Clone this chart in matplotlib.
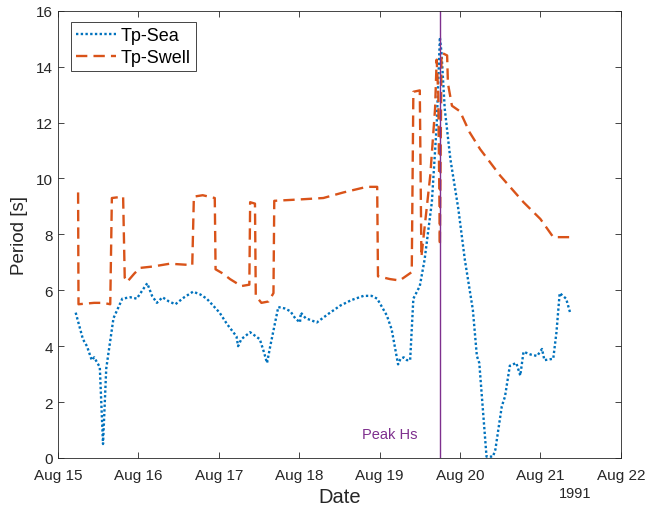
import numpy as np
import pandas as pd
import matplotlib
matplotlib.use('Agg')
import matplotlib.pyplot as plt
import matplotlib.dates as mdates

plt.rcParams['font.family'] = ['Liberation Sans', 'DejaVu Sans']

# Tp-Sea, time in days since 1991-08-15 00:00
sea_days = [0.22, 0.31, 0.36, 0.42, 0.45, 0.52, 0.56, 0.60, 0.69, 0.80, 0.90, 0.98,
            1.05, 1.11, 1.17, 1.23, 1.30, 1.38, 1.46, 1.57, 1.68, 1.77, 1.85, 2.01,
            2.10, 2.22, 2.24, 2.28, 2.39, 2.51, 2.56, 2.60, 2.64, 2.74, 2.82, 2.89,
            2.95, 3.01, 3.02, 3.08, 3.22, 3.36, 3.51, 3.65, 3.80, 3.90, 3.97, 4.09,
            4.15, 4.23, 4.26, 4.30, 4.34, 4.38, 4.42, 4.50, 4.56, 4.65, 4.71, 4.75,
            4.77, 4.81, 4.88, 4.98, 5.06, 5.16, 5.21, 5.24, 5.33, 5.41, 5.44, 5.52,
            5.56, 5.62, 5.70, 5.75, 5.79, 5.88, 5.96, 6.02, 6.05, 6.16, 6.20, 6.24,
            6.28, 6.32, 6.37]
sea_tp = [5.2, 4.25, 4.0, 3.5, 3.6, 3.25, 0.5, 3.2, 5.0, 5.7, 5.75, 5.7,
          6.0, 6.25, 5.8, 5.55, 5.75, 5.6, 5.5, 5.75, 5.95, 5.85, 5.7, 5.2,
          4.8, 4.35, 4.0, 4.25, 4.5, 4.25, 3.8, 3.4, 4.0, 5.4, 5.35, 5.25,
          5.0, 4.85, 5.2, 5.0, 4.85, 5.15, 5.45, 5.65, 5.8, 5.8, 5.7, 5.1,
          4.6, 3.35, 3.55, 3.6, 3.5, 3.5, 5.7, 6.15, 7.1, 9.15, 11.9, 15.05,
          14.5, 12.5, 10.7, 8.9, 7.1, 5.3, 3.65, 3.4, 0.05, 0.05, 0.3, 1.85,
          2.2, 3.3, 3.4, 2.95, 3.8, 3.7, 3.65, 3.9, 3.5, 3.55, 4.5, 5.9,
          5.8, 5.7, 5.2]

# Tp-Swell
swell_days = [0.25, 0.255, 0.45, 0.56, 0.65, 0.67, 0.81, 0.83, 0.86, 0.95, 1.02, 1.18,
              1.39, 1.67, 1.69, 1.80, 1.95, 1.96, 2.05, 2.14, 2.28, 2.38, 2.39, 2.45,
              2.46, 2.53, 2.62, 2.68, 2.69, 3.01, 3.30, 3.55, 3.84, 3.97, 3.98, 4.13,
              4.25, 4.40, 4.42, 4.50, 4.52, 4.63, 4.69, 4.71, 4.73, 4.75, 4.77, 4.84,
              4.85, 4.90, 5.00, 5.12, 5.25, 5.50, 5.79, 6.00, 6.16, 6.27, 6.37]
swell_tp = [9.5, 5.5, 5.55, 5.55, 5.5, 9.3, 9.35, 6.45, 6.3, 6.6, 6.8, 6.85,
            6.95, 6.9, 9.35, 9.4, 9.3, 6.75, 6.6, 6.4, 6.15, 6.2, 9.15, 9.1,
            5.8, 5.55, 5.6, 5.9, 9.2, 9.25, 9.3, 9.5, 9.7, 9.7, 6.5, 6.4,
            6.35, 6.65, 13.1, 13.15, 7.2, 10.1, 12.5, 14.25, 13.0, 7.6, 14.5, 14.4,
            13.4, 12.6, 12.4, 11.65, 11.05, 10.1, 9.15, 8.55, 7.9, 7.9, 7.9]

peak_day = 4.75

base = pd.Timestamp('1991-08-15')
sea_t = base + pd.to_timedelta(sea_days, unit='D')
swell_t = base + pd.to_timedelta(swell_days, unit='D')
peak_t = base + pd.to_timedelta(peak_day, unit='D')

fig = plt.figure(figsize=(6.48, 5.1), dpi=100)
ax = fig.add_axes([0.0895, 0.1, 0.8685, 0.877])

ax.plot(sea_t, sea_tp, color='#0072BD', linestyle=(0, (1, 1)), lw=1.7, label='Tp-Sea')
ax.plot(swell_t, swell_tp, color='#D95319', linestyle=(0, (4.8, 2.6)), lw=1.7, label='Tp-Swell')
ax.axvline(peak_t, color='#7E2F8E', lw=1)
ax.annotate('Peak Hs', xy=(peak_t, 0), xytext=(-16, 12), textcoords='offset points',
            ha='right', va='bottom', color='#7E2F8E', fontsize=10.5)

ax.set_xlim(pd.Timestamp('1991-08-15'), pd.Timestamp('1991-08-22'))
ax.set_ylim(0, 16)
ax.set_yticks(np.arange(0, 17, 2))
ax.xaxis.set_major_locator(mdates.DayLocator())
ax.xaxis.set_major_formatter(mdates.DateFormatter('%b %d'))

ax.tick_params(direction='in', top=True, right=True, length=4, width=0.6,
               labelsize=11, colors='#262626')
ax.tick_params(axis='x', pad=7)
for s in ax.spines.values():
    s.set_color('#262626')
    s.set_linewidth(0.6)

ax.set_xlabel('Date', fontsize=14.5, color='#262626', labelpad=4)
ax.set_ylabel('Period [s]', fontsize=13.5, color='#262626', labelpad=6)
fig.text(0.887, 0.031, '1991', ha='center', va='center', fontsize=10.5, color='#262626')

leg = ax.legend(loc='upper left', fontsize=13, handlelength=2.2, handletextpad=0.25,
                fancybox=False, framealpha=1, borderpad=0.3, labelspacing=0.25,
                borderaxespad=0, bbox_to_anchor=(0.023, 0.975))
leg.get_frame().set_edgecolor('#262626')
leg.get_frame().set_linewidth(0.6)

fig.savefig('out.png', dpi=100)
